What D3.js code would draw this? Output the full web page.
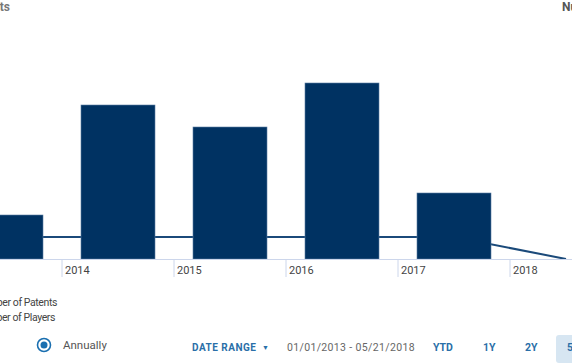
<!DOCTYPE html>
<html>
<head>
<meta charset="utf-8">
<script src="https://cdn.jsdelivr.net/npm/d3@7"></script>
<style>
body { margin: 0; background: #fff; font-family: Roboto, "Open Sans", sans-serif; overflow: hidden; }
</style>
</head>
<body>
<script>
var width = 572;
var height = 364;

var years = [2013, 2014, 2015, 2016, 2017, 2018];
var patents = [2, 7, 6, 8, 3, 0];
var players = [1, 1, 1, 1, 1, 0];
var legendLabels = ["Number of Patents", "Number of Players"];
var rangeButtons = ["YTD", "1Y", "2Y", "5Y"];

var svg = d3.select("body")
	.append("svg")
		.attr("width", width)
		.attr("height", height);

var baseY = 259;

var x = d3.scaleBand()
	.domain(years)
	.range([-50, 622])
	.padding(0);

var y = d3.scaleLinear()
	.domain([0, 10])
	.range([baseY, 39]);

var y2 = d3.scaleLinear()
	.domain([0, 10])
	.range([baseY, 39]);

// axis titles (cut off at the edges)
svg.append("text")
	.attr("x", 10)
	.attr("y", 11)
	.attr("text-anchor", "end")
	.attr("font-size", "12px")
	.attr("font-weight", "bold")
	.style("fill", "#777")
	.text(legendLabels[0]);

svg.append("text")
	.attr("x", 562)
	.attr("y", 11)
	.attr("font-size", "12px")
	.attr("font-weight", "bold")
	.style("fill", "#555")
	.text(legendLabels[1]);

// players line (behind the bars)
var line = d3.line()
	.x((d, i) => x(years[i]) + x.bandwidth() / 2)
	.y((d) => y2(d));

svg.append("path")
	.datum(players)
	.attr("d", line)
	.attr("fill", "none")
	.attr("stroke", "#1b4a7a")
	.attr("stroke-width", 2);

// bars
var barInset = 19;
svg.selectAll("rect.bar").data(years)
	.enter()
	.append("rect")
	.attr("class", "bar")
	.attr("x", (d) => x(d) + barInset)
	.attr("y", (d, i) => y(patents[i]))
	.attr("width", x.bandwidth() - 2 * barInset)
	.attr("height", (d, i) => baseY - y(patents[i]))
	.attr("fill", "#003262")
	.attr("stroke", "#5a7ea3")
	.attr("stroke-width", 0.6);

// x axis
var xAxis = d3.axisBottom(x)
	.tickSize(18)
	.tickFormat((d) => d);

var gx = svg.append("g")
	.attr("transform", "translate(0," + baseY + ")")
	.call(xAxis);

gx.select(".domain").attr("stroke", "#ccd6eb");
gx.selectAll(".tick line")
	.attr("transform", "translate(" + (-x.bandwidth() / 2) + ",0)")
	.attr("stroke", "#ccd6eb");
gx.selectAll(".tick text")
	.attr("x", -x.bandwidth() / 2 + 3)
	.attr("y", 7)
	.attr("dy", "0.71em")
	.attr("text-anchor", "start")
	.attr("font-family", "Roboto, sans-serif")
	.attr("font-size", "11px")
	.style("fill", "#444");
gx.selectAll(".tick").filter((d) => d === 2013).select("text").remove();

// legend (symbols off-screen)
var legendEnd = [57, 55];
svg.selectAll("text.legend").data(legendLabels)
	.enter()
	.append("text")
	.attr("class", "legend")
	.attr("x", (d, i) => legendEnd[i])
	.attr("y", (d, i) => 306 + i * 15)
	.attr("text-anchor", "end")
	.attr("font-size", "10.5px")
	.attr("letter-spacing", "-0.4px")
	.style("fill", "#444")
	.text((d) => d);

// radio
svg.append("circle")
	.attr("cx", 44)
	.attr("cy", 345)
	.attr("r", 6.5)
	.attr("fill", "none")
	.attr("stroke", "#1a6fb0")
	.attr("stroke-width", 1.6);
svg.append("circle")
	.attr("cx", 44)
	.attr("cy", 345)
	.attr("r", 3.5)
	.attr("fill", "#1a6fb0");
svg.append("text")
	.attr("x", 63)
	.attr("y", 349)
	.attr("font-size", "11.5px")
	.style("fill", "#555")
	.text("Annually");

// date range controls
svg.append("text")
	.attr("x", 192)
	.attr("y", 351)
	.attr("font-size", "10px")
	.attr("font-weight", "bold")
	.attr("letter-spacing", "0.5px")
	.style("fill", "#2a6fa8")
	.text("DATE RANGE");
svg.append("text")
	.attr("x", 262)
	.attr("y", 350)
	.attr("font-size", "7px")
	.style("fill", "#2a6fa8")
	.text("▼");
svg.append("text")
	.attr("x", 287)
	.attr("y", 351)
	.attr("font-size", "10.5px")
	.attr("letter-spacing", "0.35px")
	.style("fill", "#666")
	.text("01/01/2013 - 05/21/2018");

svg.append("rect")
	.attr("x", 556)
	.attr("y", 335)
	.attr("width", 40)
	.attr("height", 28)
	.attr("rx", 3)
	.attr("fill", "#d7e6f2");

var btnX = [433, 483, 525, 567];
svg.selectAll("text.btn").data(rangeButtons)
	.enter()
	.append("text")
	.attr("class", "btn")
	.attr("x", (d, i) => btnX[i])
	.attr("y", 351)
	.attr("font-size", "10.5px")
	.attr("font-weight", "bold")
	.style("fill", "#2a6fa8")
	.text((d) => d);
</script>
</body>
</html>
